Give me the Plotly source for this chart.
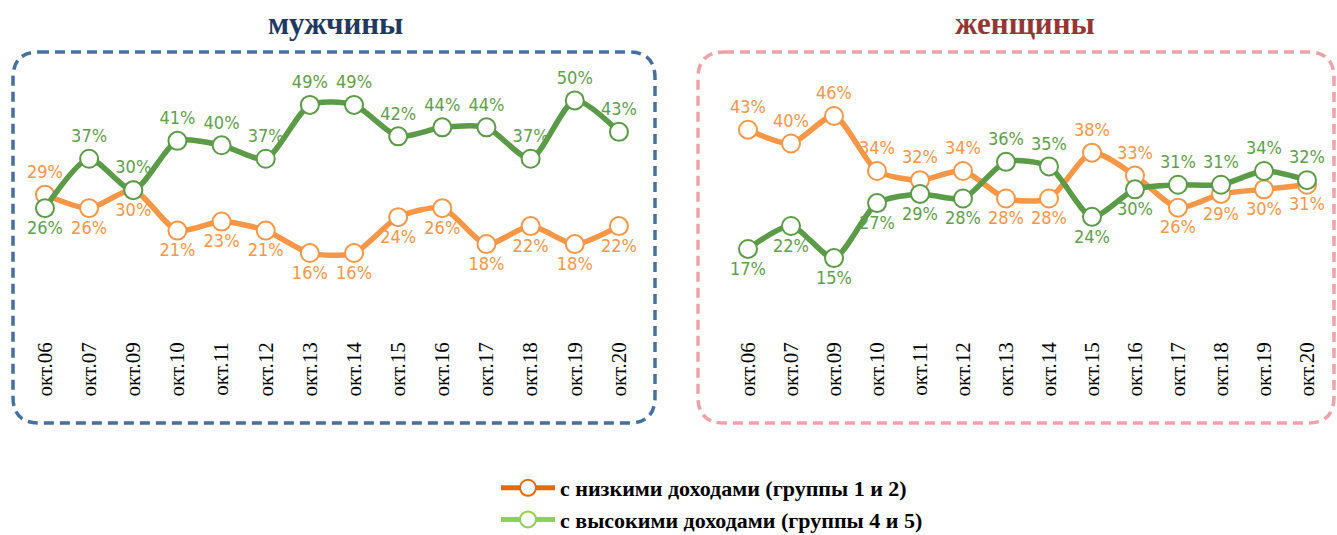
import plotly.graph_objects as go

# ---------------- data ----------------
categories = ["окт.06", "окт.07", "окт.09", "окт.10", "окт.11", "окт.12", "окт.13",
              "окт.14", "окт.15", "окт.16", "окт.17", "окт.18", "окт.19", "окт.20"]

men_low = [29, 26, 30, 21, 23, 21, 16, 16, 24, 26, 18, 22, 18, 22]
men_high = [26, 37, 30, 41, 40, 37, 49, 49, 42, 44, 44, 37, 50, 43]
women_low = [43, 40, 46, 34, 32, 34, 28, 28, 38, 33, 26, 29, 30, 31]
women_high = [17, 22, 15, 27, 29, 28, 36, 35, 24, 30, 31, 31, 34, 32]

men_low_pos = ["top center"] + ["bottom center"] * 13
men_high_pos = ["bottom center"] + ["top center"] * 13
women_low_pos = ["top center"] * 6 + ["bottom center"] * 2 + ["top center"] * 2 + \
                ["bottom center"] * 4
women_high_pos = ["bottom center"] * 6 + ["top center"] * 2 + ["bottom center"] * 2 + \
                 ["top center"] * 4

legend_names = ["с низкими доходами (группы 1 и 2)", "с высокими доходами (группы 4 и 5)"]
titles = ["мужчины", "женщины"]

# ---------------- styles ----------------
W, H = 1337, 535
ORANGE = "#F79646"
GREEN = "#5B9B47"
ORANGE_LBL = "#F79646"
GREEN_LBL = "#5FA04B"
LEG_ORANGE = "#E36C09"
LEG_GREEN = "#92D050"
LABEL_FONT = dict(family="Liberation Sans Narrow, DejaVu Sans Condensed, sans-serif", size=18)
SERIF = "Liberation Serif, Times New Roman, serif"


def px_x(p):
    return p / W


def px_y(p):
    return 1 - p / H


fig = go.Figure()


def add_series(vals, pos, color, lblcolor, xa, ya):
    fig.add_trace(go.Scatter(
        x=categories, y=vals, mode="lines+markers+text",
        text=[f"{v}%" for v in vals], textposition=pos,
        textfont=dict(color=lblcolor, **LABEL_FONT),
        line=dict(color=color, width=5.5, shape="spline", smoothing=0.7),
        marker=dict(size=18, color="white", line=dict(color=color, width=2)),
        xaxis=xa, yaxis=ya, showlegend=False, cliponaxis=False, hoverinfo="skip",
    ))


add_series(men_low, men_low_pos, ORANGE, ORANGE_LBL, "x", "y")
add_series(men_high, men_high_pos, GREEN, GREEN_LBL, "x", "y")
add_series(women_low, women_low_pos, ORANGE, ORANGE_LBL, "x2", "y2")
add_series(women_high, women_high_pos, GREEN, GREEN_LBL, "x2", "y2")

# legend-only traces
for name, col, grp in [(legend_names[0], LEG_ORANGE, "a"), (legend_names[1], LEG_GREEN, "b")]:
    fig.add_trace(go.Scatter(
        x=[None], y=[None], mode="lines+markers", name=name, legendgroup=grp,
        line=dict(color=col, width=5),
        marker=dict(size=16, color="white", line=dict(color=col, width=2)),
        xaxis="x", yaxis="y",
    ))

# axes
common_x = dict(type="category", range=[-0.5, 13.5], showgrid=False, zeroline=False,
                showline=False, ticks="", tickangle=-90,
                tickfont=dict(family=SERIF, size=21, color="black"))
common_y = dict(showgrid=False, zeroline=False, showline=False, showticklabels=False,
                ticks="")

y_dom = [px_y(337), px_y(60)]
fig.update_layout(
    xaxis=dict(domain=[px_x(22.9), px_x(641.0)], anchor="y", **common_x),
    yaxis=dict(domain=y_dom, range=[-2.7, 59.0], anchor="x", **common_y),
    xaxis2=dict(domain=[px_x(726.5), px_x(1328.5)], anchor="y2", **common_x),
    yaxis2=dict(domain=y_dom, range=[-2.2, 58.2], anchor="x2", **common_y),
)


def rounded_path(x0, y0, x1, y1, r):
    X = px_x
    Y = px_y
    return (f"M {X(x0 + r)},{Y(y0)} L {X(x1 - r)},{Y(y0)} "
            f"Q {X(x1)},{Y(y0)} {X(x1)},{Y(y0 + r)} "
            f"L {X(x1)},{Y(y1 - r)} Q {X(x1)},{Y(y1)} {X(x1 - r)},{Y(y1)} "
            f"L {X(x0 + r)},{Y(y1)} Q {X(x0)},{Y(y1)} {X(x0)},{Y(y1 - r)} "
            f"L {X(x0)},{Y(y0 + r)} Q {X(x0)},{Y(y0)} {X(x0 + r)},{Y(y0)} Z")


shapes = [
    dict(type="path", xref="paper", yref="paper", path=rounded_path(13, 52, 655, 423, 26),
         line=dict(color="#4571A1", width=3.5, dash="10px,6px"), layer="below"),
    dict(type="path", xref="paper", yref="paper", path=rounded_path(698, 52, 1334, 423, 26),
         line=dict(color="#EDA2A6", width=3.5, dash="10px,6px"), layer="below"),
]

annotations = [
    dict(text=f"<b>{titles[0]}</b>", x=px_x(335), y=px_y(24), xref="paper", yref="paper",
         showarrow=False, xanchor="center", yanchor="middle",
         font=dict(family=SERIF, size=31, color="#1F3864")),
    dict(text=f"<b>{titles[1]}</b>", x=px_x(1025), y=px_y(24), xref="paper", yref="paper",
         showarrow=False, xanchor="center", yanchor="middle",
         font=dict(family=SERIF, size=31, color="#943634")),
]

fig.update_layout(
    width=W, height=H, autosize=False,
    margin=dict(l=0, r=0, t=0, b=0, autoexpand=False),
    paper_bgcolor="white", plot_bgcolor="white",
    shapes=shapes, annotations=annotations,
    showlegend=True,
    legend=dict(x=px_x(496), y=px_y(467), xanchor="left", yanchor="top",
                traceorder="grouped", tracegroupgap=0,
                font=dict(family=SERIF, size=22, color="black", weight="bold"),
                bgcolor="rgba(0,0,0,0)", itemwidth=54),
)

# pin the figure to the window's top-left corner, without page margins or scrolling
fig.write_html(
    "out.html",
    config={"displayModeBar": False},
    post_script="document.body.style.margin='0';"
                "var gd=document.getElementById('{plot_id}');"
                "gd.style.position='fixed';gd.style.left='0';gd.style.top='0';"
                "document.documentElement.style.overflow='hidden';"
                "document.body.style.overflow='hidden';",
)
